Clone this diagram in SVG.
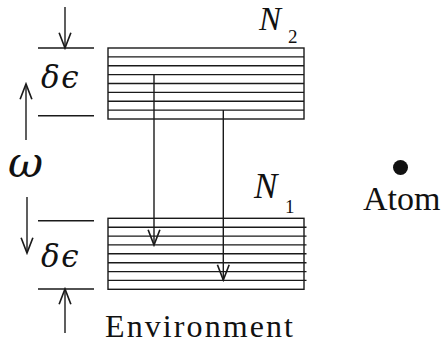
<svg xmlns="http://www.w3.org/2000/svg" width="441" height="347" viewBox="0 0 441 347">
<defs>
<style>
.ln{stroke:#1a1a1a;stroke-width:1.4;fill:none}
.ar{stroke:#1a1a1a;stroke-width:1.4;fill:none;marker-end:url(#v)}
.it{font-family:"Liberation Serif","Times New Roman",serif;font-style:italic;fill:#111}
.gr{font-family:"DejaVu Serif",serif;font-style:italic;fill:#111}
.rm{font-family:"Liberation Serif","Times New Roman",serif;fill:#111}
</style>
<marker id="v" markerUnits="userSpaceOnUse" markerWidth="20" markerHeight="20" viewBox="-15 -8 17 16" refX="0" refY="0" orient="auto">
<path d="M-13,-5 L0,0 L-13,5" stroke="#1a1a1a" stroke-width="1.4" fill="none"/>
</marker>
</defs>
<g id="upper-band">
<rect class="ln" x="108" y="48" width="196" height="71"/>
<path class="ln" d="M108,56.9H304M108,65.8H304M108,74.6H304M108,83.5H304M108,92.4H304M108,101.3H304M108,110.1H304"/>
<text class="it" x="259" y="29.5" font-size="33">N</text>
<text class="rm" x="288" y="43" font-size="19">2</text>
</g>
<g id="lower-band">
<rect class="ln" x="108" y="218.3" width="196" height="71"/>
<path class="ln" d="M108,227.2H306.5M108,236.1H306.5M108,244.9H306.5M108,253.8H306.5M108,262.7H306.5M108,271.6H306.5M108,280.4H306.5"/>
<text class="it" x="254" y="198" font-size="35">N</text>
<text class="rm" x="285" y="213" font-size="19">1</text>
</g>
<g id="atom">
<circle cx="400.5" cy="167.5" r="7.5" fill="#111"/>
<text class="rm" x="363" y="210" font-size="34">Atom</text>
</g>
<g id="environment">
<text class="rm" x="105" y="337" font-size="32" textLength="188" lengthAdjust="spacing">Environment</text>
</g>
<g id="widths">
<path class="ln" d="M38,48H94M38,115.7H94M38,220.7H94M38,289H94"/>
<text class="gr" x="41" y="88" font-size="31" letter-spacing="1.5">δϵ</text>
<text class="gr" x="41" y="266.5" font-size="31" letter-spacing="1.5">δϵ</text>
<text class="gr" x="8" y="177" font-size="43">ω</text>
</g>
<g id="connectors">
<path class="ar" d="M65,7V48"/>
<path class="ar" d="M65,333V289"/>
<path class="ar" d="M26,140V84"/>
<path class="ar" d="M27,197V253"/>
<path class="ar" d="M154,74.6V245"/>
<path class="ar" d="M223.3,110.1V280"/>
</g>
</svg>
